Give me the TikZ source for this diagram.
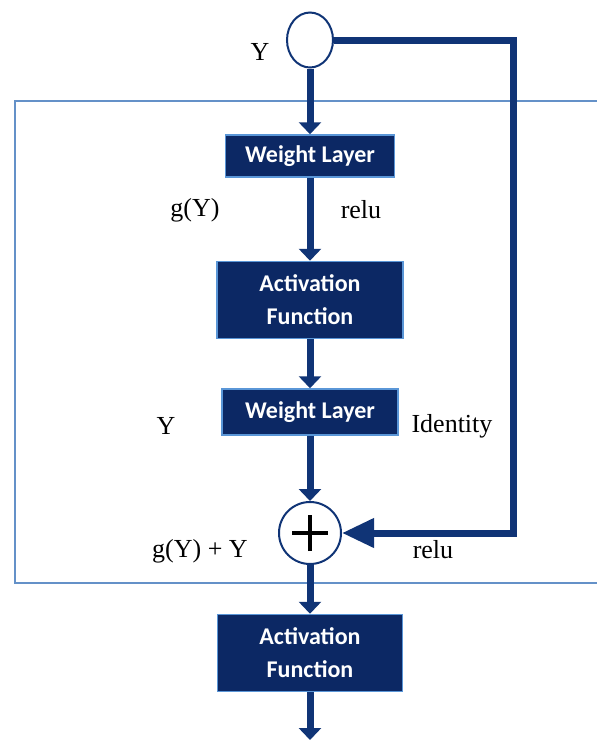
\documentclass[tikz,border=0pt]{standalone}
\usepackage{fontspec}
\setmainfont{Liberation Serif}
\newfontfamily\boxfont{Carlito}
\usetikzlibrary{arrows.meta,shapes.geometric}
\definecolor{navy}{RGB}{12,40,100}
\definecolor{wire}{RGB}{16,52,118}
\definecolor{edge}{RGB}{90,150,215}
\definecolor{framec}{RGB}{100,145,200}
\begin{document}
\begin{tikzpicture}[x=1pt,y=-1pt,
  block/.style={fill=navy, draw=edge, line width=1.5pt, text=white,
    font=\boxfont\bfseries\fontsize{24}{33}\selectfont, align=center, inner sep=0pt},
  lab/.style={font=\fontsize{26}{30}\selectfont, inner sep=0pt},
  flow/.style={draw=wire, line width=7pt, -{Triangle[length=12pt,width=22pt]}},
  loopback/.style={draw=wire, line width=7pt, line join=miter, -{Triangle[length=32pt,width=28pt]}}]
  \useasboundingbox (0,0) rectangle (597,740);
  \fill[white] (0,0) rectangle (597,740);

  % residual block frame (open to the right)
  \draw[framec, line width=2pt] (15,101) rectangle (660,583);

  % nodes
  \node[ellipse, draw=wire, line width=2pt, fill=white, minimum width=46pt, minimum height=55pt, inner sep=0pt] (in) at (310,40) {};
  \node[block, minimum width=169pt, minimum height=42pt] (w1) at (310,156) {Weight Layer};
  \node[block, minimum width=186pt, minimum height=77pt] (a1) at (310,300) {Activation\\Function};
  \node[block, minimum width=176pt, minimum height=46pt] (w2) at (310,412) {Weight Layer};
  \node[circle, draw=wire, line width=2pt, fill=white, minimum size=62pt, inner sep=0pt,
    path picture={
      \draw[black, line width=4pt] (path picture bounding box.center) ++(-18pt,0) -- ++(36pt,0);
      \draw[black, line width=4pt] (path picture bounding box.center) ++(0,-18pt) -- ++(0,36pt);
    }] (plus) at (310,533) {};
  \node[block, minimum width=185pt, minimum height=77pt] (a2) at (310,653) {Activation\\Function};
  \coordinate (out) at (310,740);
  \coordinate (fb) at (513,533);

  % connectors
  \draw[flow] (in.south) -- (w1.north);
  \draw[flow] (w1.south) -- (a1.north);
  \draw[flow] (a1.south) -- (w2.north);
  \draw[flow] (w2.south) -- (plus.north);
  \draw[flow] (plus.south) -- (a2.north);
  \draw[flow] (a2.south) -- (out);
  \draw[loopback] (in.east) -| (fb) -- (plus.east);

  % labels
  \node[lab] (ly) at (260,52) {Y};
  \node[lab] (lg) at (195,210) {g(Y)};
  \node[lab] (lr1) at (361,210) {relu};
  \node[lab] (ly2) at (166,426) {Y};
  \node[lab] (lid) at (452,426) {Identity};
  \node[lab] (lsum) at (200,551) {g(Y) + Y};
  \node[lab] (lr2) at (433,550) {relu};
\end{tikzpicture}
\end{document}
